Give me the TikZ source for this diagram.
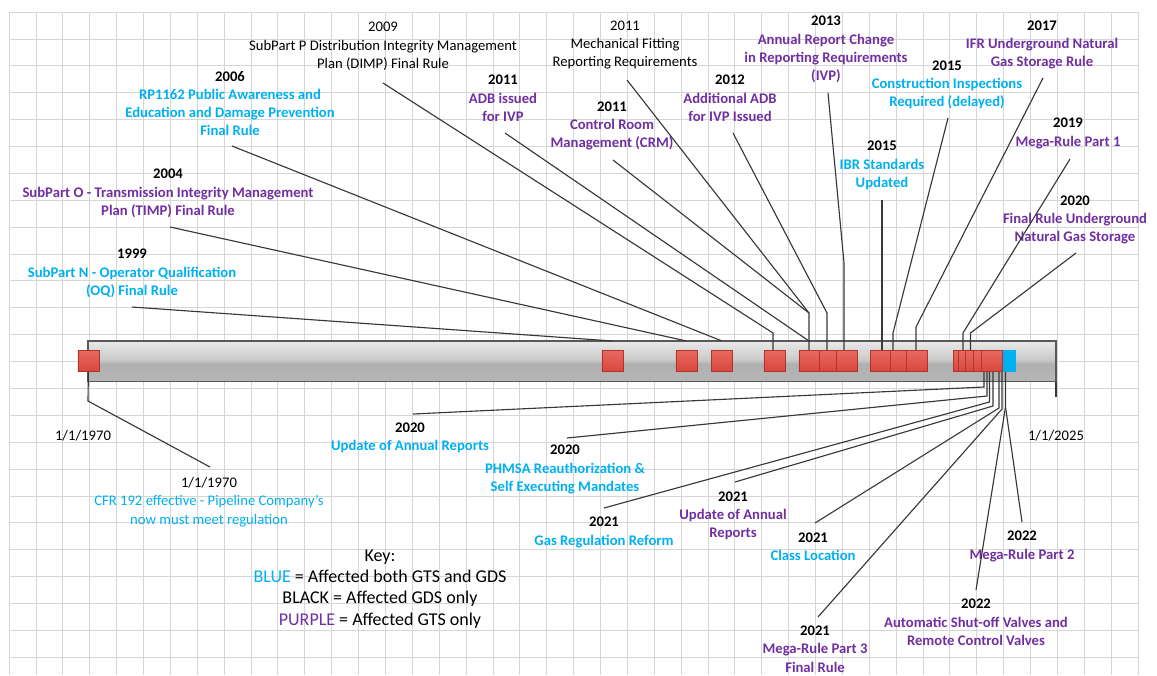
\documentclass[tikz,border=0pt]{standalone}
\usepackage{fontspec}
\setmainfont{Carlito}
\definecolor{cblue}{HTML}{00B0F0}
\definecolor{cpurple}{HTML}{7030A0}
\definecolor{sqred}{HTML}{E0524A}
\definecolor{sqredtop}{HTML}{E86A60}
\definecolor{sqredbot}{HTML}{D8463D}
\definecolor{sqedge}{HTML}{B0342C}
\definecolor{gridc}{HTML}{D6D6D6}
\pgfdeclareverticalshading{barshade}{100bp}{color(0bp)=(gray!42); color(20bp)=(gray!56); color(47bp)=(gray!62); color(52bp)=(gray!42); color(78bp)=(gray!14); color(100bp)=(white)}
\newcommand{\yrlbl}[1]{\textcolor{black}{#1}}
\tikzset{
  gridline/.style={draw=gridc, line width=0.5pt},
  leader/.style={draw=black!78, line width=0.85pt},
  lbl/.style={align=center, inner sep=0pt, font=\fontsize{11pt}{13.7pt}\selectfont\bfseries},
  lblp/.style={lbl, text=cpurple},
  lblb/.style={lbl, text=cblue},
  lblk/.style={align=center, inner sep=0pt, font=\fontsize{11pt}{13.7pt}\selectfont, text=black},
  evsq/.style={rectangle, draw=sqedge, top color=sqredtop, bottom color=sqredbot, line width=0.6pt, minimum size=15.8pt, inner sep=0pt},
}
\begin{document}
\begin{tikzpicture}[x=0.75pt,y=-0.75pt]
\useasboundingbox (0,0) rectangle (1157,675);
\fill[white] (0,0) rectangle (1157,675);
\foreach \i in {0,...,42} { \draw[gridline] ({9+\i*26.88},12) -- ({9+\i*26.88},675); }
\foreach \j in {0,...,24} { \draw[gridline] (9,{12+\j*26.88}) -- (1138,{12+\j*26.88}); }

% timeline bar
\path[shading=barshade] (88,341) rectangle (1056,381.5);
\draw[draw=black!65, line width=0.8pt] (88,341) rectangle (1056,381.5);
\coordinate (bt) at (0,341);

% square positions
\coordinate (p1970) at (88.5,361);
\coordinate (p1999) at (612.5,361);
\coordinate (p2004) at (686.5,361);
\coordinate (p2006) at (722,361);
\coordinate (p2009) at (774.5,361);
\coordinate (p2011) at (809.5,361);
\coordinate (p2012) at (829.5,361);
\coordinate (p2013) at (846.5,361);
\coordinate (p2015i) at (881.2,361);
\coordinate (p2015c) at (901,361);
\coordinate (p2017) at (917,361);
\coordinate (c1) at (964.3,361);
\coordinate (c2) at (969.3,361);
\coordinate (c3) at (976,361);
\coordinate (c4) at (984.3,361);
\coordinate (c5) at (992.3,361);
\coordinate (pblue) at (1005,361);

% top labels
\node[lblb] (t1999) at (132,273.5) {\yrlbl{1999}\\SubPart N - Operator Qualification\\(OQ) Final Rule};
\node[lblp] (t2004) at (168,193.5) {\yrlbl{2004}\\SubPart O - Transmission Integrity Management\\Plan (TIMP) Final Rule};
\node[lblb] (t2006) at (230,103.5) {\yrlbl{2006}\\RP1162 Public Awareness and\\Education and Damage Prevention\\Final Rule};
\node[lblk] (t2009) at (383,46.5) {2009\\SubPart P Distribution Integrity Management\\Plan (DIMP) Final Rule};
\node[lblp] (t2011a) at (503,98.5) {\yrlbl{2011}\\ADB issued\\for IVP};
\node[lblk] (t2011m) at (625,45) {2011\\Mechanical Fitting\\Reporting Requirements};
\node[lblp] (t2011c) at (612,126) {\yrlbl{2011}\\Control Room\\Management (CRM)};
\node[lblp] (t2012) at (730,98.5) {\yrlbl{2012}\\Additional ADB\\for IVP Issued};
\node[lblp] (t2013) at (826,49.5) {\yrlbl{2013}\\Annual Report Change\\in Reporting Requirements\\(IVP)};
\node[lblb] (t2015i) at (882,165.5) {\yrlbl{2015}\\IBR Standards\\Updated};
\node[lblb] (t2015c) at (947,85) {\yrlbl{2015}\\Construction Inspections\\Required (delayed)};
\node[lblp] (t2017) at (1042,45) {\yrlbl{2017}\\IFR Underground Natural\\Gas Storage Rule};
\node[lblp] (t2019) at (1068,133.5) {\yrlbl{2019}\\Mega-Rule Part 1};
\node[lblp] (t2020) at (1075,220) {\yrlbl{2020}\\Final Rule Underground\\Natural Gas Storage};

% bottom labels
\node[lblk] (d1970a) at (83,436) {1/1/1970};
\node[lblk] (d1970b) at (209,502) {1/1/1970\\\textcolor{cblue}{CFR 192 effective - Pipeline Company's}\\\textcolor{cblue}{now must meet regulation}};
\node[lblb] (b2020u) at (410,438) {\yrlbl{2020}\\Update of Annual Reports};
\node[lblb] (b2020p) at (565,469.5) {\yrlbl{2020}\\PHMSA Reauthorization \&\\Self Executing Mandates};
\node[lblb] (b2021g) at (604,532.5) {\yrlbl{2021}\\Gas Regulation Reform};
\node[lblp] (b2021u) at (733,516) {\yrlbl{2021}\\Update of Annual\\Reports};
\node[lblb] (b2021c) at (813,546.5) {\yrlbl{2021}\\Class Location};
\node[lblp] (b2021m) at (815,649) {\yrlbl{2021}\\Mega-Rule Part 3\\Final Rule};
\node[lblp] (b2022a) at (976,622.5) {\yrlbl{2022}\\Automatic Shut-off Valves and\\Remote Control Valves};
\node[lblp] (b2022m) at (1022,546.5) {\yrlbl{2022}\\Mega-Rule Part 2};
\node[lblk] (d2025) at (1056,436) {1/1/2025};
\node[align=center, inner sep=0pt, font=\fontsize{13.5pt}{16pt}\selectfont] (key) at (380,589) {Key:\\\textcolor{cblue}{BLUE} = Affected both GTS and GDS\\BLACK = Affected GDS only\\\textcolor{cpurple}{PURPLE} = Affected GTS only};

% leader start points and knees (top)
\coordinate (s1999) at (132,307);
\coordinate (s2004) at (170,227);
\coordinate (s2006) at (232,146);
\coordinate (s2009) at (383,83);
\coordinate (s2011a) at (505,133);
\coordinate (s2011m) at (627,80);
\coordinate (s2011c) at (613,160);
\coordinate (s2012) at (733,133);
\coordinate (s2013) at (828,93);
\coordinate (s2015i) at (882,200);
\coordinate (s2015c) at (948,118);
\coordinate (s2017) at (1043,78);
\coordinate (s2019) at (1070,159);
\coordinate (s2020) at (1076,253);
\coordinate (k2009) at (773,333);
\coordinate (k2011) at (809,313);
\coordinate (k2012) at (827,313);
\coordinate (k2013) at (844,263);
\coordinate (k2015c) at (893,333);
\coordinate (k2017) at (916,327);
\coordinate (k2019) at (963,333);
\coordinate (k2020) at (970.5,333);

\draw[leader] (s1999) -- (p1999 |- bt);
\draw[leader] (s2004) -- (p2004 |- bt);
\draw[leader] (s2006) -- (p2006 |- bt);
\draw[leader] (s2009) -- (k2009) -- (k2009 |- p2009);
\draw[leader] (s2011a) -- (k2011 |- bt);
\draw[leader] (s2011c) -- (k2011) -- (k2011 |- p2011);
\draw[leader] (s2011m) -- (k2011);
\draw[leader] (s2012) -- (k2012) -- (k2012 |- p2012);
\draw[leader] (s2013) -- (k2013) -- (k2013 |- p2013);
\draw[leader] (s2015i) -- (s2015i |- p2015i);
\draw[leader] (s2015c) -- (k2015c) -- (k2015c |- p2015c);
\draw[leader] (s2017) -- (k2017) -- (k2017 |- p2017);
\draw[leader] (s2019) -- (k2019) -- (k2019 |- c1);
\draw[leader] (s2020) -- (k2020) -- (k2020 |- c2);

% bottom leaders
\coordinate (u2020u) at (413,414);
\coordinate (u2020p) at (567,438);
\coordinate (u2021g) at (604,508);
\coordinate (u2021u) at (735,482);
\coordinate (u2021c) at (815,523);
\coordinate (u2021m) at (818,617);
\coordinate (u2022a) at (976,590);
\coordinate (u2022m) at (1022,522);
\coordinate (m1) at (984,387);
\coordinate (m2) at (987,396);
\coordinate (m3) at (989.5,402);
\coordinate (m4) at (993,406);
\coordinate (m5) at (999,408);
\coordinate (m6) at (1002,409);
\coordinate (m7) at (1005.5,407);
\draw[leader] (u2020u) -- (m1) -- (m1 |- c4);
\draw[leader] (u2020p) -- (m2) -- (m2 |- c4);
\draw[leader] (u2021g) -- (m3) -- (m3 |- c4);
\draw[leader] (u2021u) -- (m4) -- (m4 |- c5);
\draw[leader] (u2021c) -- (m5) -- (m5 |- c5);
\draw[leader] (u2021m) -- (m6) -- (m6 |- c5);
\draw[leader] (u2022a) -- (m7) -- (m7 |- pblue);
\draw[leader] (u2022m) -- (m7);

\coordinate (k1970) at (88,401);
\coordinate (s1970b) at (210,467);
\draw[leader] (p1970) -- (k1970) -- (s1970b);
\coordinate (e2025) at (1056,381.5);
\coordinate (k2025) at (1056,397);
\draw[leader] (e2025) -- (k2025);

% event squares
\node[evsq] (q1970) at (p1970) {};
\node[evsq] (q1999) at (p1999) {};
\node[evsq] (q2004) at (p2004) {};
\node[evsq] (q2006) at (p2006) {};
\node[evsq] (q2009) at (p2009) {};
\node[evsq] (q2011) at (p2011) {};
\node[evsq] (q2012) at (p2012) {};
\node[evsq] (q2013) at (p2013) {};
\node[evsq] (q2015i) at (p2015i) {};
\node[evsq] (q2015c) at (p2015c) {};
\node[evsq] (q2017) at (p2017) {};
\node[evsq] (qc1) at (c1) {};
\node[evsq] (qc2) at (c2) {};
\node[evsq] (qc3) at (c3) {};
\node[evsq] (qc4) at (c4) {};
\node[evsq, top color=cblue, bottom color=cblue, draw=cblue] (qblue) at (pblue) {};
\node[evsq] (qc5) at (c5) {};
\end{tikzpicture}
\end{document}
